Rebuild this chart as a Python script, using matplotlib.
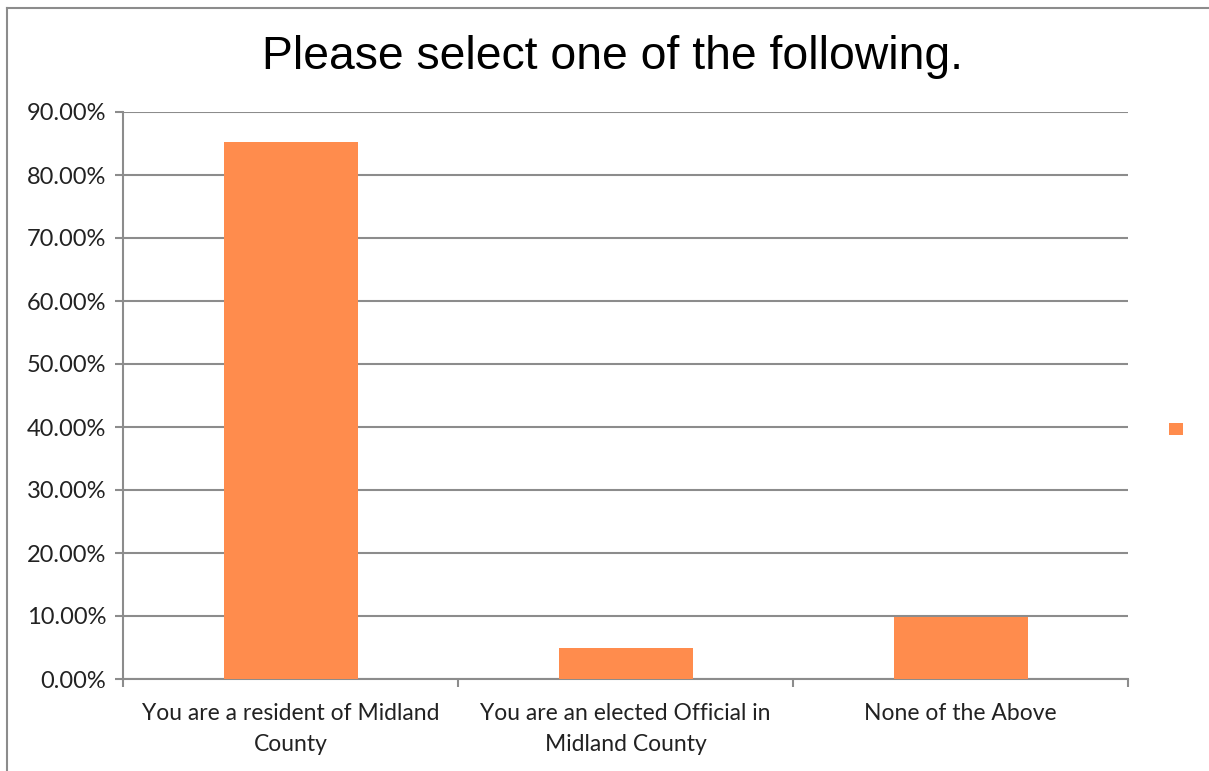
import matplotlib
matplotlib.use("Agg")
import matplotlib.pyplot as plt
from matplotlib.lines import Line2D
from matplotlib.ticker import FuncFormatter, FixedLocator
import numpy as np

categories = ["You are a resident of Midland\nCounty",
              "You are an elected Official in\nMidland County",
              "None of the Above"]
shares = [85.29, 4.90, 9.80]
yticks = [0, 10, 20, 30, 40, 50, 60, 70, 80, 90]

BAR = "#FF8C4D"
GRID = "#8C8C8C"
W, H = 1209, 771

fig = plt.figure(figsize=(W / 100, H / 100), dpi=100)
ax = fig.add_axes([123 / W, 1 - 679 / H, (1128 - 123) / W, (679 - 112) / H])

x = np.arange(len(categories))
bars = ax.bar(x, shares, width=0.4, color=BAR, zorder=3)

ax.set_xlim(-0.5, len(categories) - 0.5)
ax.set_ylim(0, 90)
ax.set_yticks(yticks)
ax.yaxis.set_major_formatter(FuncFormatter(lambda v, p: f"{v:.2f}%"))
ax.set_xticks(x)
ax.set_xticklabels(categories, fontsize=16.5, family="Lato", color="#222222", linespacing=1.6)
ax.xaxis.set_minor_locator(FixedLocator(np.arange(len(categories) + 1) - 0.5))
ax.tick_params(axis="x", which="major", length=0, pad=17)
ax.tick_params(axis="x", which="minor", length=6, width=1.5, color=GRID)
ax.tick_params(axis="y", length=6, width=1.5, color=GRID, labelsize=17, labelcolor="#222222", pad=6)
for lab in ax.get_yticklabels():
    lab.set_family("Lato")

ax.grid(axis="y", color=GRID, linewidth=1.5, zorder=0)
ax.set_axisbelow(True)
for s in ["top", "right"]:
    ax.spines[s].set_visible(False)
for s in ["left", "bottom"]:
    ax.spines[s].set_color(GRID)
    ax.spines[s].set_linewidth(1.5)

fig.text(612 / W, 1 - 57 / H, "Please select one of the following.", ha="center", va="center",
         fontsize=33.3, family="Liberation Sans", color="black")

# legend with only the colour swatch
fig.legend([bars[0]], [""], loc="center", bbox_to_anchor=(1176 / W, 1 - 429.5 / H),
           frameon=False, handlelength=0.95, handleheight=0.95, handletextpad=0, borderpad=0)

# chart area border (top and left visible)
fig.add_artist(Line2D([7 / W, 1], [1 - 8 / H, 1 - 8 / H], transform=fig.transFigure, color="#8C8C8C", lw=1.5))
fig.add_artist(Line2D([7 / W, 7 / W], [0, 1 - 8 / H], transform=fig.transFigure, color="#8C8C8C", lw=1.5))

fig.savefig("out.png", dpi=100)
